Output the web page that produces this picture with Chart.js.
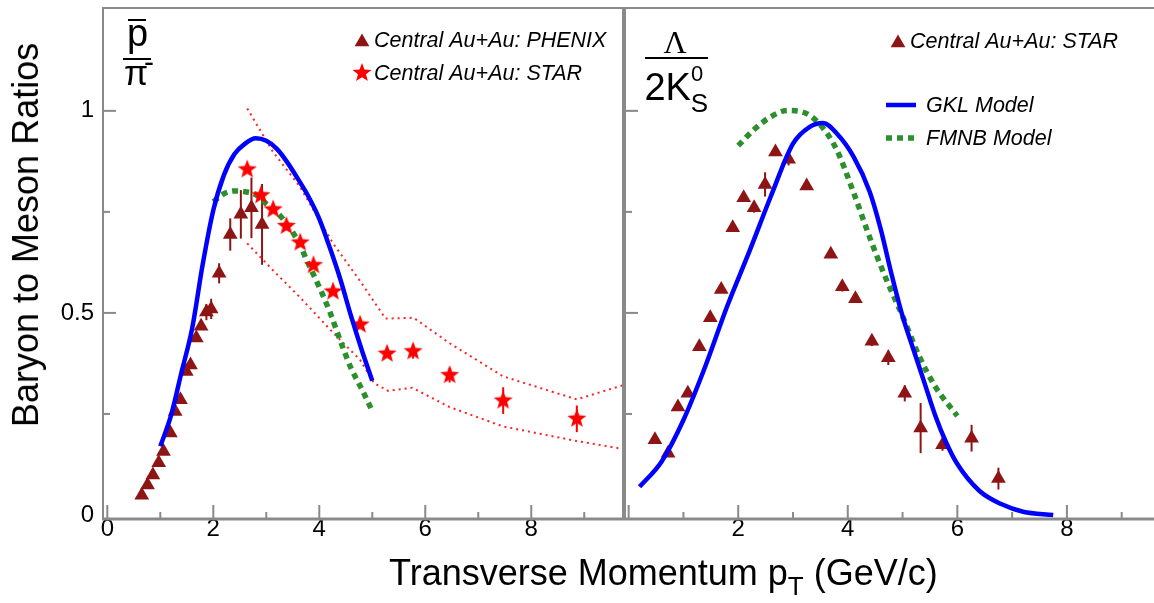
<!DOCTYPE html>
<html>
<head>
<meta charset="utf-8">
<script src="https://cdn.jsdelivr.net/npm/chart.js@4.4.1/dist/chart.umd.min.js"></script>
<style>
  body { margin: 0; background: #fff; }
  #page { position: relative; width: 1154px; height: 603px; overflow: hidden; font-family: Arial, "Liberation Sans", sans-serif; }
  .box { position: absolute; top: 0; height: 603px; }
  #leftBox { left: 0; width: 624px; }
  #rightBox { left: 624px; width: 530px; }
  .lbl { position: absolute; color: #000; white-space: nowrap; line-height: 1; }
  .bar { position: absolute; background: #000; }
</style>
</head>
<body>
<div id="page">
  <div class="box" id="leftBox"><canvas id="leftChart"></canvas></div>
  <div class="box" id="rightBox"><canvas id="rightChart"></canvas></div>
</div>
<script>
// ---- left panel: pbar / pi- ----
const phenixX = [0.65, 0.76, 0.86, 0.97, 1.06, 1.19, 1.28, 1.38, 1.49, 1.57, 1.68, 1.77, 1.87, 1.96, 2.11, 2.32, 2.52, 2.72, 2.92];
const phenixY = [0.049, 0.074, 0.099, 0.129, 0.157, 0.203, 0.256, 0.285, 0.355, 0.371, 0.438, 0.467, 0.502, 0.510, 0.598, 0.694, 0.744, 0.760, 0.719];
const phenixErr = [0, 0, 0, 0, 0, 0, 0, 0, 0, 0.01, 0, 0, 0.02, 0.025, 0.025, 0.04, 0.06, 0.075, 0.10];

const starX = [2.64, 2.9, 3.13, 3.38, 3.64, 3.89, 4.26, 4.77, 5.28, 5.77, 6.46, 7.47, 8.86];
const starY = [0.855, 0.791, 0.756, 0.715, 0.674, 0.618, 0.553, 0.471, 0.399, 0.405, 0.346, 0.283, 0.238];
const starErr = [0, 0, 0, 0, 0, 0, 0, 0, 0, 0.018, 0.018, 0.033, 0.033];

const bandUpX = [2.64, 3.13, 3.64, 4.26, 4.77, 5.25, 5.78, 6.46, 7.47, 8.86, 9.75];
const bandUpY = [1.006, 0.898, 0.811, 0.672, 0.579, 0.486, 0.488, 0.425, 0.343, 0.286, 0.322];
const bandLoX = [2.64, 3.13, 3.64, 4.26, 4.77, 5.03, 5.3, 5.75, 6.46, 7.47, 8.86, 9.75];
const bandLoY = [0.672, 0.605, 0.538, 0.451, 0.384, 0.327, 0.307, 0.315, 0.267, 0.219, 0.183, 0.163];

const gklLeftX = [1.0, 1.2, 1.4, 1.6, 1.8, 2.0, 2.2, 2.4, 2.6, 2.8, 3.0, 3.2, 3.4, 3.6, 3.8, 4.0, 4.2, 4.4, 4.6, 4.8, 5.0];
const gklLeftY = [0.170, 0.245, 0.353, 0.461, 0.620, 0.754, 0.841, 0.893, 0.919, 0.932, 0.926, 0.906, 0.872, 0.831, 0.787, 0.733, 0.661, 0.582, 0.492, 0.409, 0.332];

const fmnbLeftX = [2.0, 2.2, 2.4, 2.6, 2.8, 3.0, 3.2, 3.4, 3.6, 3.8, 4.0, 4.2, 4.4, 4.6, 4.8, 5.0];
const fmnbLeftY = [0.775, 0.795, 0.802, 0.800, 0.793, 0.770, 0.749, 0.718, 0.677, 0.620, 0.564, 0.502, 0.430, 0.363, 0.312, 0.257];

// ---- right panel: Lambda / 2K0s ----
const lamX = [0.48, 0.72, 0.9, 1.08, 1.29, 1.49, 1.69, 1.9, 2.1, 2.29, 2.49, 2.68, 2.92, 3.25, 3.69, 3.9, 4.14, 4.44, 4.74, 5.04, 5.33, 5.73, 6.26, 6.75];
const lamY = [0.186, 0.153, 0.267, 0.301, 0.416, 0.488, 0.558, 0.711, 0.785, 0.760, 0.818, 0.898, 0.880, 0.814, 0.645, 0.565, 0.535, 0.430, 0.389, 0.301, 0.215, 0.174, 0.190, 0.090];
const lamErr = [0, 0, 0, 0, 0, 0, 0, 0, 0.01, 0.012, 0.03, 0.01, 0.015, 0, 0, 0.012, 0, 0.012, 0.018, 0.02, 0.062, 0.015, 0.033, 0.027];

const gklRightX = [0.2, 0.6, 1.0, 1.4, 1.8, 2.2, 2.6, 3.0, 3.3, 3.55, 3.8, 4.1, 4.4, 4.6, 4.8, 5.0, 5.2, 5.4, 5.6, 5.8, 6.0, 6.4, 6.8, 7.2, 7.75];
const gklRightY = [0.070, 0.132, 0.235, 0.368, 0.517, 0.651, 0.790, 0.919, 0.960, 0.970, 0.944, 0.888, 0.800, 0.708, 0.595, 0.492, 0.409, 0.327, 0.245, 0.178, 0.126, 0.060, 0.027, 0.008, 0.0];

const fmnbRightX = [2.0, 2.3, 2.6, 2.9, 3.2, 3.5, 3.8, 4.1, 4.4, 4.7, 5.0, 5.3, 5.6, 6.0];
const fmnbRightY = [0.914, 0.955, 0.986, 1.001, 0.996, 0.965, 0.903, 0.800, 0.687, 0.584, 0.492, 0.394, 0.317, 0.245];

const xTickLabels = ['0', '2', '4', '6', '8'];
const yTickLabels = ['0', '0.5', '1'];

const FONT = 'Arial, "Liberation Sans", sans-serif';
const markRed = '#8e1515';
const frameGrey = '#8a8a8a';

function pts(xs, ys) {
    return xs.map((x, i) => ({ x: x, y: ys[i] }));
}

// filled five point star used as point style
function makeStar(r, color) {
    const c = document.createElement('canvas');
    const s = Math.ceil(r * 2) + 2;
    c.width = s;
    c.height = s;
    const g = c.getContext('2d');
    g.fillStyle = color;
    g.beginPath();
    for (let i = 0; i < 10; i++) {
        const rr = i % 2 ? r * 0.42 : r;
        const a = -Math.PI / 2 + i * Math.PI / 5;
        g.lineTo(s / 2 + rr * Math.cos(a), s / 2 + rr * Math.sin(a));
    }
    g.closePath();
    g.fill();
    return c;
}
const starImg = makeStar(10, '#ff0000');

function triangle(ctx, x, y, r, color) {
    ctx.fillStyle = color;
    ctx.beginPath();
    ctx.moveTo(x, y - r);
    ctx.lineTo(x + r * 0.866, y + r * 0.5);
    ctx.lineTo(x - r * 0.866, y + r * 0.5);
    ctx.closePath();
    ctx.fill();
}

// ROOT style frame with inward ticks + legend
const framePlugin = {
    id: 'frame',
    afterDraw(chart, args, opts) {
        const { ctx, chartArea: a, scales } = chart;
        const x = scales.x, y = scales.y;
        ctx.save();
        ctx.strokeStyle = frameGrey;
        ctx.lineCap = 'butt';
        const line = (x1, y1, x2, y2, w) => {
            ctx.lineWidth = w;
            ctx.beginPath();
            ctx.moveTo(x1, y1);
            ctx.lineTo(x2, y2);
            ctx.stroke();
        };
        line(a.left, a.top + 1, a.right, a.top + 1, 2);
        line(a.left + 1, a.top, a.left + 1, a.bottom, 2);
        if (opts.rightEdge) line(a.right - 1, a.top, a.right - 1, a.bottom, 2);
        line(a.left, a.bottom - 1, a.right, a.bottom - 1, 3);

        x.ticks.forEach(t => {
            const px = x.getPixelForValue(t.value);
            const len = t.value % 2 === 0 ? 15 : 8;
            line(px, a.bottom, px, a.bottom - len, 2);
        });
        y.ticks.forEach(t => {
            if (t.value <= 0 || t.value > 1.2) return;
            const py = y.getPixelForValue(t.value);
            const len = Math.abs(t.value % 0.5) < 1e-6 ? 14 : 8;
            line(a.left, py, a.left + len, py, 2);
        });

        // legend entries
        ctx.font = 'italic 21.5px ' + FONT;
        ctx.textBaseline = 'middle';
        ctx.fillStyle = '#000';
        (opts.legend || []).forEach(it => {
            const lx = it.x - opts.offset;
            if (it.kind === 'tri') triangle(ctx, lx, it.y + 2, 8.5, markRed);
            if (it.kind === 'star') ctx.drawImage(starImg, lx - starImg.width / 2, it.y - starImg.height / 2);
            if (it.kind === 'line' || it.kind === 'dash') {
                ctx.strokeStyle = it.color;
                ctx.lineWidth = it.kind === 'line' ? 4.5 : 5.5;
                ctx.setLineDash(it.kind === 'dash' ? [6, 5] : []);
                ctx.beginPath();
                ctx.moveTo(lx - 14, it.y);
                ctx.lineTo(lx + 16, it.y);
                ctx.stroke();
                ctx.setLineDash([]);
            }
            ctx.fillStyle = '#000';
            ctx.fillText(it.text, it.tx - opts.offset, it.y + 1);
        });
        ctx.restore();
    }
};

// vertical error bars, drawn under the markers
const errorBarPlugin = {
    id: 'errorBars',
    beforeDatasetsDraw(chart) {
        const { ctx, scales: { x, y } } = chart;
        ctx.save();
        chart.data.datasets.forEach(ds => {
            if (!ds.errors) return;
            ctx.strokeStyle = ds.errColor;
            ctx.lineWidth = 2;
            ds.data.forEach((p, i) => {
                const e = ds.errors[i];
                if (!e) return;
                const px = x.getPixelForValue(p.x);
                ctx.beginPath();
                ctx.moveTo(px, y.getPixelForValue(p.y - e));
                ctx.lineTo(px, y.getPixelForValue(p.y + e));
                ctx.stroke();
            });
        });
        ctx.restore();
    }
};

function curve(xs, ys, color, width, dash, straight) {
    const ds = {
        data: pts(xs, ys),
        showLine: true,
        borderColor: color,
        borderWidth: width,
        borderDash: dash || [],
        borderCapStyle: 'butt',
        pointRadius: 0,
        fill: false
    };
    if (straight) ds.tension = 0;
    else ds.cubicInterpolationMode = 'monotone';
    return ds;
}

function makeOptions(xmin, xmax, yWidth, showZero, frameOpts) {
    return {
        responsive: true,
        maintainAspectRatio: false,
        animation: false,
        events: [],
        layout: { padding: { top: 7, left: 0, right: 0, bottom: 0 }, autoPadding: false },
        plugins: { legend: { display: false }, tooltip: { enabled: false }, frame: frameOpts },
        scales: {
            x: {
                type: 'linear', min: xmin, max: xmax,
                grid: { display: false, drawTicks: false },
                border: { display: false },
                ticks: {
                    stepSize: 1, includeBounds: false, autoSkip: false, maxRotation: 0, padding: -5,
                    color: '#000', font: { family: FONT, size: 24 },
                    callback: v => {
                        if (v === 0 && !showZero) return '';
                        return v % 2 === 0 ? xTickLabels[v / 2] : '';
                    }
                },
                afterFit: s => { s.height = 83; s.paddingLeft = 0; s.paddingRight = 0; }
            },
            y: {
                type: 'linear', min: -0.0124, max: 1.257,
                grid: { display: false, drawTicks: false },
                border: { display: false },
                ticks: {
                    display: yWidth > 0,
                    stepSize: 0.25, includeBounds: false, autoSkip: false, padding: 8,
                    color: '#000', font: { family: FONT, size: 24 },
                    callback: v => {
                        const k = yTickLabels.indexOf(String(v));
                        return k >= 0 ? yTickLabels[k] : '';
                    }
                },
                afterFit: s => { s.width = yWidth; s.paddingTop = 0; s.paddingBottom = 0; }
            }
        }
    };
}

new Chart(document.getElementById('leftChart'), {
    type: 'scatter',
    data: {
        datasets: [
            curve(gklLeftX, gklLeftY, '#0000ff', 4.5),
            {
                data: pts(starX, starY), errors: starErr, errColor: '#ff0000',
                pointStyle: starImg, pointRadius: 10
            },
            curve(fmnbLeftX, fmnbLeftY, '#2b8f2b', 5.5, [6, 5]),
            curve(bandUpX, bandUpY, '#ff2020', 2, [2, 4], true),
            curve(bandLoX, bandLoY, '#ff2020', 2, [2, 4], true),
            {
                data: pts(phenixX, phenixY), errors: phenixErr, errColor: markRed,
                pointStyle: 'triangle', pointRadius: 8.5, backgroundColor: markRed, borderColor: markRed, borderWidth: 0
            }
        ]
    },
    options: makeOptions(-0.1, 9.75, 102, true, {
        offset: 0, rightEdge: true,
        legend: [
            { kind: 'tri', x: 362, y: 40, tx: 374, text: 'Central Au+Au: PHENIX' },
            { kind: 'star', x: 362, y: 73, tx: 374, text: 'Central Au+Au: STAR' }
        ]
    }),
    plugins: [framePlugin, errorBarPlugin]
});

new Chart(document.getElementById('rightChart'), {
    type: 'scatter',
    data: {
        datasets: [
            curve(gklRightX, gklRightY, '#0000ff', 4.5),
            curve(fmnbRightX, fmnbRightY, '#2b8f2b', 5.5, [6, 5]),
            {
                data: pts(lamX, lamY), errors: lamErr, errColor: markRed,
                pointStyle: 'triangle', pointRadius: 8.5, backgroundColor: markRed, borderColor: markRed, borderWidth: 0
            }
        ]
    },
    options: makeOptions(-0.085, 9.59, 0, false, {
        offset: 624, rightEdge: false,
        legend: [
            { kind: 'tri', x: 898, y: 41, tx: 910, text: 'Central Au+Au: STAR' },
            { kind: 'line', color: '#0000ff', x: 900, y: 105, tx: 926, text: 'GKL Model' },
            { kind: 'dash', color: '#2b8f2b', x: 900, y: 138, tx: 926, text: 'FMNB Model' }
        ]
    }),
    plugins: [framePlugin, errorBarPlugin]
});

// ---- titles and panel labels (html text) ----
const page = document.getElementById('page');
function addText(html, x, base, size, extra) {
    const d = document.createElement('div');
    d.className = 'lbl';
    d.innerHTML = html;
    d.style.fontSize = size + 'px';
    d.style.left = x + 'px';
    d.style.top = (base - 0.8465 * size) + 'px';
    Object.assign(d.style, extra || {});
    page.appendChild(d);
    return d;
}
function addBar(x, y, w, h) {
    const d = document.createElement('div');
    d.className = 'bar';
    Object.assign(d.style, { left: x + 'px', top: y + 'px', width: w + 'px', height: h + 'px' });
    page.appendChild(d);
}

// x axis title
addText('Transverse Momentum p<span style="font-size:26px;position:relative;top:10px">T</span> (GeV/c)', 389, 585, 36);

// y axis title
const yt = addText('Baryon to Meson Ratios', 0, 0, 36);
yt.style.top = '0px';
yt.style.left = '0px';
yt.style.transformOrigin = '0 0';
const ytw = yt.getBoundingClientRect().width;
yt.style.transform = 'translate(8px,' + (235 + ytw / 2) + 'px) rotate(-90deg)';

// pbar / pi-
addText('p', 127, 46, 38);
addBar(127.5, 19, 18.5, 2);
addBar(123, 57.5, 28, 2);
addText('\u03c0', 124, 84.5, 35);
addText('-', 144, 72, 30);

// Lambda / 2K0s
addText('\u039b', 663.5, 53, 32, { fontFamily: '"Liberation Serif", "Times New Roman", serif' });
addBar(644.5, 57, 63.5, 2);
addText('2K', 644.4, 100.5, 38);
addText('0', 691, 81.7, 22);
addText('S', 690.7, 112.4, 26);
</script>
</body>
</html>
